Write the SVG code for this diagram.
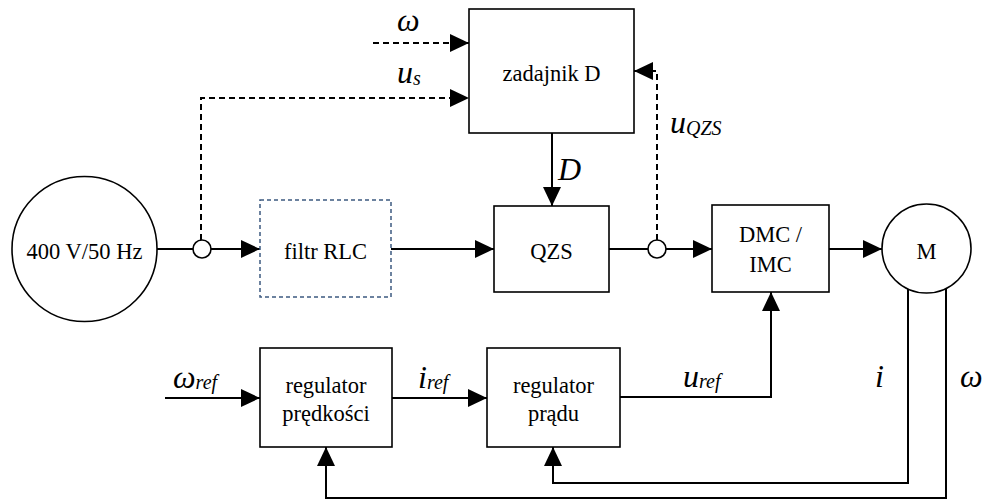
<svg xmlns="http://www.w3.org/2000/svg" width="984" height="500" viewBox="0 0 984 500">
<defs>
<marker id="arr" markerUnits="userSpaceOnUse" markerWidth="20" markerHeight="18" refX="19" refY="9" orient="auto">
<path d="M0,0 L19,9 L0,18 z" fill="#000"/>
</marker>
<style>
.box{fill:#fff;stroke:#000;stroke-width:1.6}
.dbox{fill:#fff;stroke:#3d5a80;stroke-width:1.5;stroke-dasharray:4,3}
.t{font-size:22.5px;fill:#000;text-anchor:middle}
.m{font-style:italic;font-size:32px;fill:#000}
.sub{font-size:20px}
.ln{fill:none;stroke:#000;stroke-width:2}
.da{fill:none;stroke:#000;stroke-width:2;stroke-dasharray:6,4}
.a{marker-end:url(#arr)}
.sc{fill:#fff;stroke:#000;stroke-width:1.6}
</style>
</defs>
<rect width="984" height="500" fill="#fff"/>

<g id="connectors">
<line class="ln" x1="157" y1="249" x2="193" y2="249"/>
<line class="ln a" x1="211" y1="249" x2="260" y2="249"/>
<line class="ln a" x1="391" y1="249" x2="494" y2="249"/>
<line class="ln" x1="609" y1="249" x2="648" y2="249"/>
<line class="ln a" x1="666" y1="249" x2="712" y2="249"/>
<line class="ln a" x1="829" y1="249" x2="882" y2="249"/>
<line class="ln a" x1="552" y1="133" x2="552" y2="206"/>
<polyline class="da a" points="201,240 201,98 469,98"/>
<line class="da a" x1="373" y1="43" x2="469" y2="43"/>
<polyline class="da a" points="657,240 657,71 634,71"/>
<line class="ln a" x1="165" y1="398" x2="260" y2="398"/>
<line class="ln a" x1="392" y1="398" x2="487" y2="398"/>
<polyline class="ln a" points="620,397 771,397 771,292"/>
<polyline class="ln a" points="908,288 908,483 553,483 553,447"/>
<polyline class="ln a" points="946,288 946,498 326,498 326,447"/>
<circle class="sc" cx="202" cy="249" r="9"/>
<circle class="sc" cx="657" cy="249" r="9"/>
</g>

<g font-family="Liberation Serif, Times New Roman, DejaVu Serif, serif">
<g id="source">
<circle cx="84.5" cy="249" r="72.5" fill="#fff" stroke="#000" stroke-width="1.6"/>
<text class="t" x="84.5" y="259">400 V/50 Hz</text>
</g>
<g id="filtr">
<rect class="dbox" x="260" y="200" width="131" height="97"/>
<text class="t" x="325.5" y="259">filtr RLC</text>
</g>
<g id="qzs">
<rect class="box" x="494" y="206" width="115" height="86"/>
<text class="t" x="551.5" y="259">QZS</text>
</g>
<g id="zadajnik">
<rect class="box" x="469" y="9" width="165" height="124"/>
<text class="t" x="551.5" y="81">zadajnik D</text>
</g>
<g id="dmc">
<rect class="box" x="712" y="205" width="117" height="87"/>
<text class="t" x="770.5" y="242">DMC /</text>
<text class="t" x="770.5" y="272">IMC</text>
</g>
<g id="motor">
<circle cx="926.5" cy="248.5" r="44.5" fill="#fff" stroke="#000" stroke-width="1.6"/>
<text class="t" x="926.5" y="259">M</text>
</g>
<g id="reg_predkosci">
<rect class="box" x="260" y="348" width="132" height="99"/>
<text class="t" x="326" y="393">regulator</text>
<text class="t" x="326" y="421">prędkości</text>
</g>
<g id="reg_pradu">
<rect class="box" x="487" y="348" width="133" height="99"/>
<text class="t" x="553.5" y="393">regulator</text>
<text class="t" x="553.5" y="421">prądu</text>
</g>

<g id="labels">
<text class="m" x="397" y="31">ω</text>
<text class="m" x="397" y="83">u<tspan class="sub" dy="2">s</tspan></text>
<text class="m" x="558" y="180">D</text>
<text class="m" x="670" y="133">u<tspan class="sub" dy="2">QZS</tspan></text>
<text class="m" x="173" y="388">ω<tspan class="sub" dy="1">ref</tspan></text>
<text class="m" x="418" y="388">i<tspan class="sub" dy="1">ref</tspan></text>
<text class="m" x="683" y="387">u<tspan class="sub" dy="1">ref</tspan></text>
<text class="m" x="875" y="387">i</text>
<text class="m" x="960" y="387">ω</text>
</g>
</g>
</svg>
